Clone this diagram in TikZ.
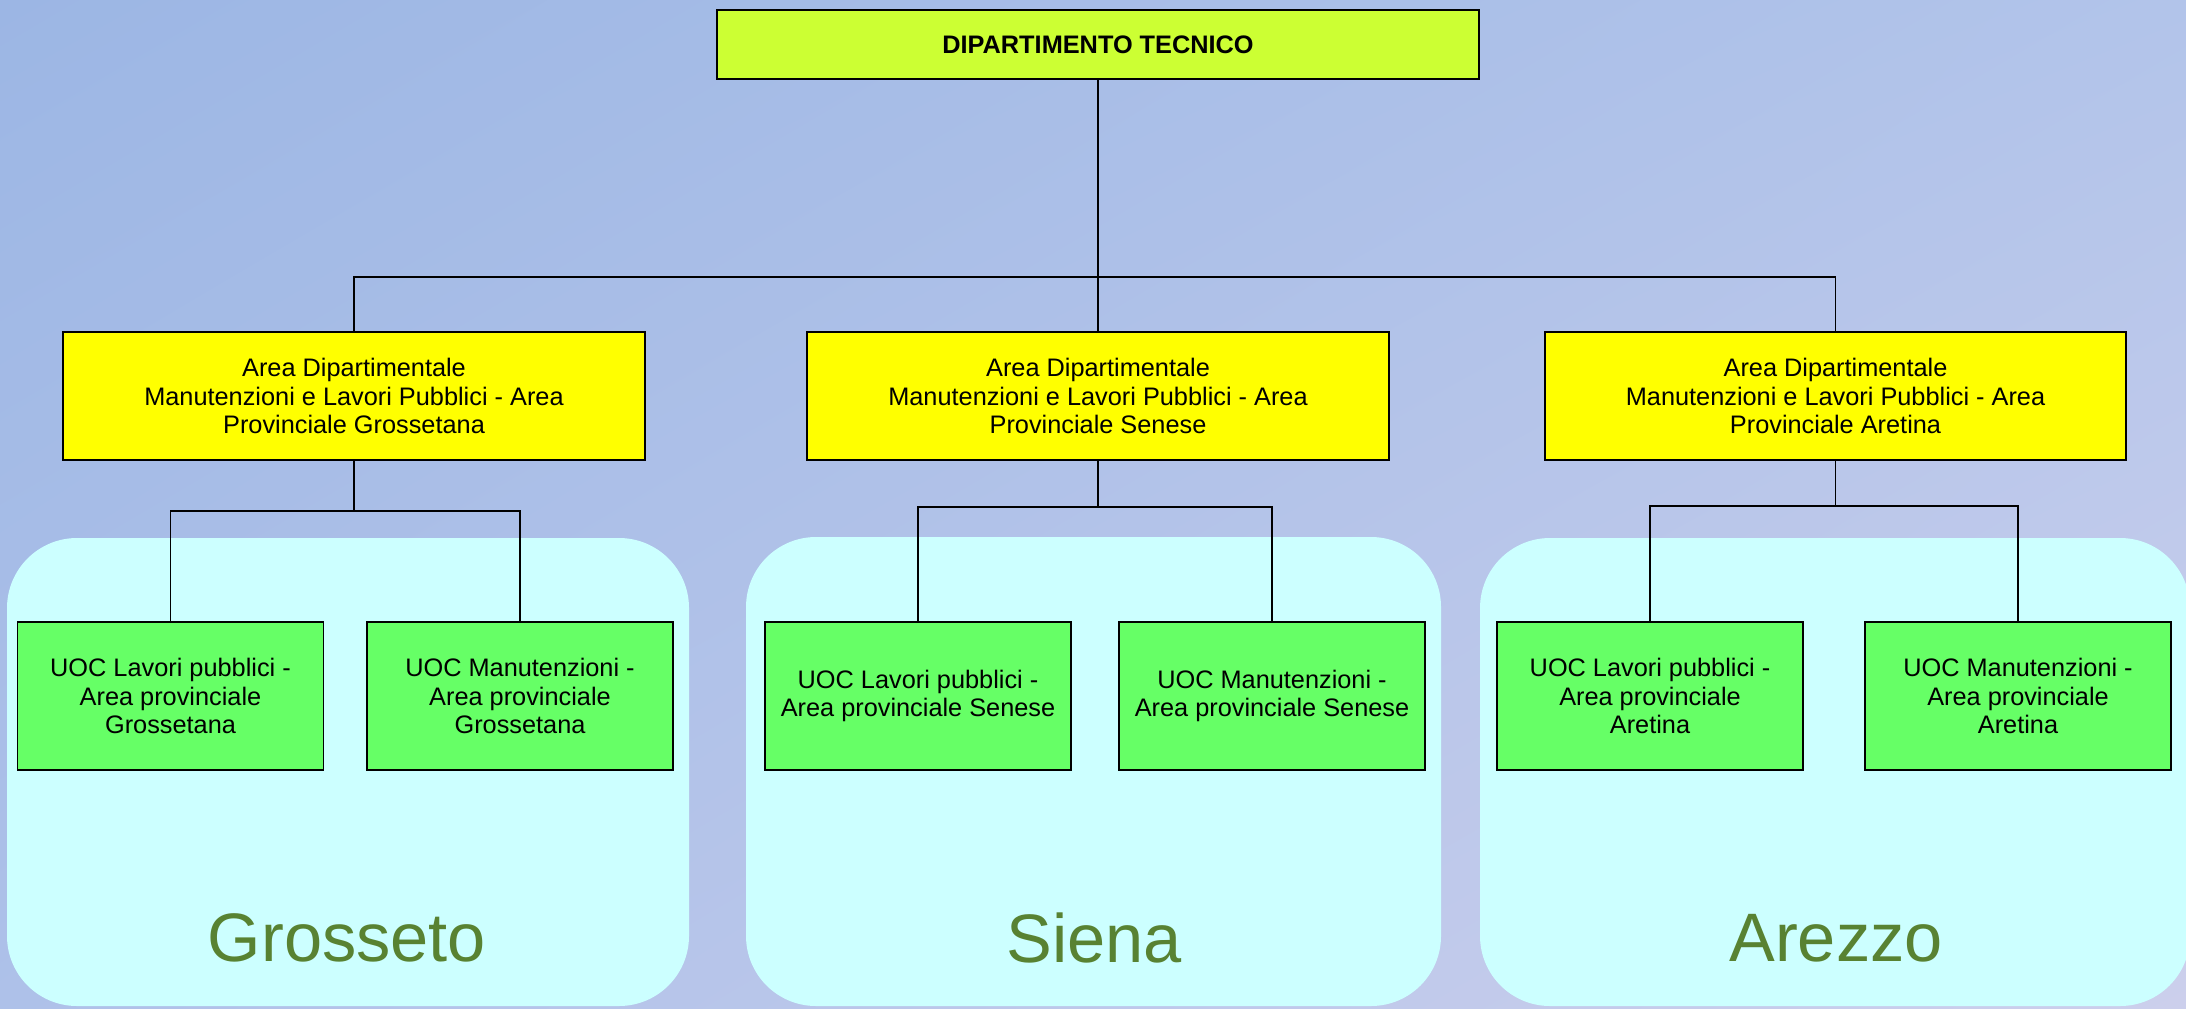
\documentclass[tikz,border=0pt]{standalone}
\usepackage{fontspec}
\setmainfont{Liberation Sans}
\usepackage{xcolor}
\usepackage{tikz}
\usetikzlibrary{positioning,shadings}

\definecolor{bgul}{RGB}{156,182,228}
\definecolor{bgur}{RGB}{178,196,234}
\definecolor{bgll}{RGB}{174,193,233}
\definecolor{bglr}{RGB}{204,207,236}
\definecolor{dircol}{RGB}{204,255,51}
\definecolor{areacol}{RGB}{255,255,0}
\definecolor{uoccol}{RGB}{102,255,102}
\definecolor{zonacol}{RGB}{204,255,255}
\definecolor{sedecol}{RGB}{88,130,50}

\begin{document}
\begin{tikzpicture}[x=0.01cm, y=0.01cm,
    direzione/.style={rectangle, draw=black, line width=0.5pt, fill=dircol, minimum width=7.62cm, minimum height=0.69cm, inner sep=0pt, font=\fontsize{7.2}{8}\selectfont\bfseries},
    area/.style={rectangle, draw=black, line width=0.5pt, fill=areacol, minimum width=5.81cm, minimum height=1.28cm, inner sep=0pt, align=center, font=\fontsize{7.2}{8}\selectfont},
    uoc/.style={rectangle, draw=black, line width=0.5pt, fill=uoccol, minimum width=3.06cm, minimum height=1.48cm, inner sep=0pt, align=center, font=\fontsize{7.2}{8}\selectfont},
    zona/.style={fill=zonacol, rounded corners=0.7cm},
    sede/.style={text=sedecol, inner sep=0pt, font=\fontsize{19.5}{22}\selectfont},
    link/.style={draw=black, line width=0.45pt}
]
    % Background
    \useasboundingbox (0,0) rectangle (2186,1008);
    \shade[upper left=bgul, upper right=bgur, lower left=bgll, lower right=bglr] (0,0) rectangle (2186,1008);

    % Zones
    \fill[zona] (7,2) rectangle (689,470);
    \fill[zona] (746,2) rectangle (1441,471);
    \fill[zona] (1480,2) rectangle (2190,470);

    \node[sede] (grosseto) at (347,70) {Grosseto};
    \node[sede] (siena) at (1094,70) {Siena};
    \node[sede] (arezzo) at (1836,70) {Arezzo};

    % Department
    \node[direzione] (dip) at (1098,963.5) {DIPARTIMENTO TECNICO};

    % Areas
    \node[area] (ag) at (354,612) {Area Dipartimentale\\Manutenzioni e Lavori Pubblici - Area\\Provinciale Grossetana};
    \node[area] (as) at (1098,612) {Area Dipartimentale\\Manutenzioni e Lavori Pubblici - Area\\Provinciale Senese};
    \node[area] (ar) at (1835.5,612) {Area Dipartimentale\\Manutenzioni e Lavori Pubblici - Area\\Provinciale Aretina};

    % UOC
    \node[uoc] (lpg) at (170.5,312) {UOC Lavori pubblici -\\Area provinciale\\Grossetana};
    \node[uoc] (mg) at (520,312) {UOC Manutenzioni -\\Area provinciale\\Grossetana};
    \node[uoc] (lps) at (918,312) {UOC Lavori pubblici -\\Area provinciale Senese};
    \node[uoc] (ms) at (1272,312) {UOC Manutenzioni -\\Area provinciale Senese};
    \node[uoc] (lpa) at (1650,312) {UOC Lavori pubblici -\\Area provinciale\\Aretina};
    \node[uoc] (ma) at (2018,312) {UOC Manutenzioni -\\Area provinciale\\Aretina};

    % Links
    \coordinate (bus) at (1098,731);
    \draw[link] (dip.south) -- (as.north);
    \draw[link] (bus) -| (ag.north);
    \draw[link] (bus) -| (ar.north);

    \coordinate (sg) at (354,497);
    \coordinate (ss) at (1098,501);
    \coordinate (sa) at (1835.5,502);
    \draw[link] (ag.south) -- (sg) -| (lpg.north);
    \draw[link] (sg) -| (mg.north);
    \draw[link] (as.south) -- (ss) -| (lps.north);
    \draw[link] (ss) -| (ms.north);
    \draw[link] (ar.south) -- (sa) -| (lpa.north);
    \draw[link] (sa) -| (ma.north);
\end{tikzpicture}
\end{document}
